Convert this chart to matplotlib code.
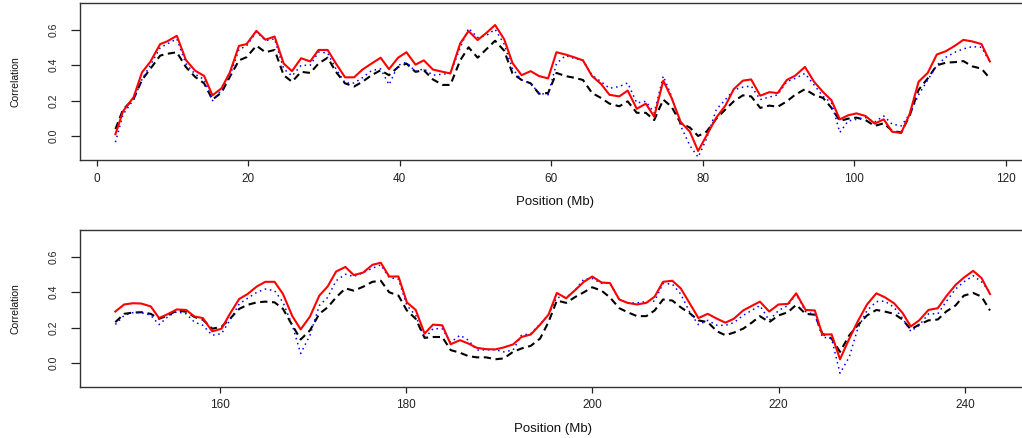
import matplotlib
matplotlib.use("Agg")
import matplotlib.pyplot as plt

plt.rcParams['font.family'] = ['Liberation Sans', 'DejaVu Sans']

# ---------------- data: upper panel ----------------
pos_top = [2.5, 3.5, 4.9, 6.0, 7.1, 8.4, 9.3, 10.6, 11.8, 13.0, 14.2, 15.3, 16.5, 17.6, 18.8,
           19.8, 21.1, 22.3, 23.5, 24.7, 25.8, 27.0, 28.2, 29.3, 30.5, 31.6, 32.8, 34.0, 35.1,
           36.3, 37.5, 38.6, 39.8, 40.9, 42.1, 43.2, 44.4, 45.7, 46.7, 48.0, 49.1, 50.3, 51.5,
           52.6, 53.8, 54.9, 56.1, 57.3, 58.4, 59.6, 60.7, 61.9, 63.0, 64.2, 65.4, 66.6, 67.7,
           69.0, 70.1, 71.3, 72.5, 73.6, 74.8, 75.9, 77.1, 78.3, 79.4, 80.5, 81.8, 83.0, 84.1,
           85.3, 86.4, 87.6, 88.8, 89.9, 91.1, 92.2, 93.5, 94.7, 95.9, 97.0, 98.1, 99.2, 100.3,
           101.5, 102.7, 103.9, 105.0, 106.2, 107.3, 108.5, 109.7, 110.9, 112.1, 113.3, 114.4,
           115.6, 116.8, 117.9]

red_top = [0.01, 0.14, 0.22, 0.36, 0.42, 0.52, 0.535, 0.567, 0.43, 0.37, 0.34, 0.23, 0.27, 0.36,
           0.51, 0.52, 0.595, 0.545, 0.563, 0.41, 0.367, 0.44, 0.422, 0.487, 0.487, 0.41, 0.332,
           0.332, 0.376, 0.41, 0.443, 0.378, 0.443, 0.474, 0.404, 0.428, 0.376, 0.363, 0.354,
           0.524, 0.594, 0.543, 0.585, 0.628, 0.548, 0.413, 0.344, 0.367, 0.339, 0.326, 0.474,
           0.461, 0.446, 0.428, 0.339, 0.294, 0.233, 0.224, 0.257, 0.154, 0.183, 0.109, 0.313,
           0.215, 0.079, 0.025, -0.085, 0.002, 0.104, 0.172, 0.265, 0.313, 0.32, 0.228, 0.248,
           0.243, 0.317, 0.341, 0.391, 0.307, 0.248, 0.202, 0.094, 0.117, 0.128, 0.113, 0.07,
           0.094, 0.024, 0.017, 0.122, 0.307, 0.357, 0.461, 0.48, 0.511, 0.544, 0.535, 0.52, 0.422]

black_top = [0.039, 0.15, 0.21, 0.317, 0.38, 0.455, 0.465, 0.474, 0.39, 0.335, 0.298, 0.206, 0.246,
             0.335, 0.428, 0.446, 0.511, 0.474, 0.487, 0.344, 0.307, 0.363, 0.357, 0.41, 0.443,
             0.363, 0.298, 0.28, 0.307, 0.344, 0.372, 0.344, 0.39, 0.41, 0.363, 0.372, 0.32, 0.289,
             0.289, 0.428, 0.502, 0.443, 0.493, 0.539, 0.483, 0.354, 0.317, 0.298, 0.239, 0.243,
             0.357, 0.339, 0.33, 0.317, 0.243, 0.215, 0.183, 0.168, 0.196, 0.131, 0.131, 0.09,
             0.206, 0.165, 0.072, 0.048, 0.0, 0.024, 0.098, 0.15, 0.196, 0.23, 0.224, 0.159, 0.172,
             0.165, 0.196, 0.233, 0.265, 0.233, 0.215, 0.159, 0.085, 0.098, 0.104, 0.09, 0.057,
             0.072, 0.029, 0.02, 0.113, 0.261, 0.326, 0.40, 0.415, 0.418, 0.424, 0.394, 0.381, 0.326]

blue_top = [-0.035, 0.122, 0.206, 0.32, 0.40, 0.50, 0.52, 0.55, 0.41, 0.35, 0.32, 0.20, 0.26, 0.34,
            0.49, 0.51, 0.59, 0.54, 0.55, 0.38, 0.34, 0.40, 0.40, 0.475, 0.47, 0.38, 0.30, 0.30,
            0.33, 0.37, 0.38, 0.29, 0.40, 0.418, 0.365, 0.38, 0.344, 0.35, 0.354, 0.50, 0.61,
            0.557, 0.57, 0.604, 0.52, 0.38, 0.317, 0.298, 0.243, 0.233, 0.41, 0.455, 0.44, 0.428,
            0.344, 0.307, 0.27, 0.28, 0.30, 0.187, 0.196, 0.131, 0.339, 0.224, 0.057, -0.054,
            -0.12, -0.017, 0.15, 0.206, 0.261, 0.276, 0.283, 0.206, 0.22, 0.233, 0.307, 0.326,
            0.354, 0.289, 0.224, 0.187, 0.02, 0.085, 0.094, 0.104, 0.08, 0.113, 0.067, 0.057,
            0.122, 0.233, 0.317, 0.40, 0.446, 0.474, 0.493, 0.506, 0.502, 0.418]

# ---------------- data: lower panel ----------------
pos_bot = [148.8, 149.75, 150.7, 151.6, 152.6, 153.5, 154.5, 155.4, 156.4, 157.3, 158.2, 159.2,
           160.2, 161.1, 162.1, 163.0, 164.0, 164.9, 165.9, 166.8, 167.8, 168.7, 169.7, 170.7,
           171.6, 172.5, 173.5, 174.4, 175.4, 176.4, 177.3, 178.2, 179.2, 180.1, 181.05, 182.0,
           182.9, 183.9, 184.8, 185.8, 186.7, 187.6, 188.6, 189.6, 190.5, 191.5, 192.4, 193.4,
           194.4, 195.3, 196.2, 197.2, 198.1, 199.1, 200.0, 201.0, 201.9, 202.9, 203.8, 204.8,
           205.8, 206.7, 207.6, 208.6, 209.5, 210.5, 211.4, 212.4, 213.4, 214.3, 215.2, 216.2,
           217.2, 218.0, 219.0, 220.0, 221.0, 221.9, 222.9, 223.9, 224.7, 225.7, 226.6, 227.6,
           228.5, 229.5, 230.5, 231.4, 232.4, 233.3, 234.2, 235.1, 236.1, 237.1, 238.0, 239.0,
           239.9, 240.9, 241.8, 242.7]

red_bot = [0.291, 0.331, 0.338, 0.336, 0.32, 0.254, 0.278, 0.303, 0.30, 0.263, 0.254, 0.179, 0.194,
           0.278, 0.362, 0.39, 0.433, 0.459, 0.459, 0.39, 0.265, 0.19, 0.263, 0.381, 0.433, 0.517,
           0.543, 0.497, 0.511, 0.555, 0.567, 0.489, 0.489, 0.343, 0.30, 0.166, 0.217, 0.213,
           0.106, 0.129, 0.11, 0.086, 0.078, 0.077, 0.088, 0.105, 0.147, 0.161, 0.217, 0.273,
           0.396, 0.366, 0.409, 0.459, 0.489, 0.455, 0.452, 0.359, 0.34, 0.331, 0.34, 0.375,
           0.459, 0.465, 0.422, 0.334, 0.254, 0.278, 0.25, 0.228, 0.25, 0.297, 0.325, 0.347,
           0.291, 0.331, 0.334, 0.394, 0.30, 0.297, 0.161, 0.162, 0.021, 0.138, 0.235, 0.331,
           0.394, 0.372, 0.338, 0.284, 0.207, 0.241, 0.30, 0.31, 0.377, 0.441, 0.483, 0.521, 0.48, 0.39]

black_bot = [0.231, 0.278, 0.285, 0.287, 0.278, 0.25, 0.27, 0.297, 0.29, 0.26, 0.245, 0.194, 0.205,
             0.25, 0.306, 0.329, 0.343, 0.347, 0.343, 0.306, 0.213, 0.133, 0.185, 0.278, 0.315,
             0.371, 0.422, 0.409, 0.431, 0.459, 0.465, 0.40, 0.381, 0.297, 0.25, 0.142, 0.147,
             0.147, 0.073, 0.058, 0.039, 0.032, 0.032, 0.021, 0.026, 0.063, 0.082, 0.097, 0.138,
             0.231, 0.353, 0.34, 0.371, 0.40, 0.428, 0.409, 0.371, 0.31, 0.287, 0.265, 0.265,
             0.297, 0.359, 0.353, 0.315, 0.28, 0.241, 0.231, 0.179, 0.157, 0.172, 0.194, 0.231,
             0.265, 0.231, 0.269, 0.287, 0.329, 0.278, 0.273, 0.166, 0.138, 0.063, 0.157, 0.213,
             0.269, 0.30, 0.291, 0.278, 0.246, 0.19, 0.217, 0.241, 0.246, 0.291, 0.325, 0.381,
             0.396, 0.375, 0.297]

blue_bot = [0.218, 0.269, 0.285, 0.285, 0.27, 0.217, 0.265, 0.29, 0.278, 0.231, 0.213, 0.157, 0.166,
            0.241, 0.334, 0.366, 0.40, 0.418, 0.409, 0.343, 0.213, 0.054, 0.157, 0.325, 0.371,
            0.465, 0.502, 0.489, 0.511, 0.536, 0.555, 0.483, 0.474, 0.325, 0.269, 0.138, 0.194,
            0.194, 0.116, 0.157, 0.129, 0.073, 0.075, 0.075, 0.063, 0.073, 0.157, 0.166, 0.22,
            0.273, 0.371, 0.371, 0.409, 0.474, 0.478, 0.45, 0.452, 0.359, 0.34, 0.34, 0.347, 0.35,
            0.45, 0.446, 0.39, 0.284, 0.217, 0.241, 0.213, 0.213, 0.228, 0.269, 0.30, 0.325,
            0.241, 0.297, 0.325, 0.39, 0.291, 0.273, 0.147, 0.138, -0.058, 0.035, 0.194, 0.297,
            0.347, 0.35, 0.315, 0.254, 0.179, 0.213, 0.278, 0.278, 0.347, 0.418, 0.459, 0.493,
            0.459, 0.40]

top_xticks = [0, 20, 40, 60, 80, 100, 120]
bot_xticks = [160, 180, 200, 220, 240]
yticks = [0.0, 0.2, 0.4, 0.6]
ytick_labels = ["0.0", "0.2", "0.4", "0.6"]
xlabel = "Position (Mb)"
ylabel = "Correlation"

# ---------------- figure ----------------
W, H = 1022, 438
fig = plt.figure(figsize=(W / 100, H / 100), dpi=100)


def px_axes(left, top, right, bottom):
    return fig.add_axes([left / W, 1 - bottom / H, (right - left) / W, (bottom - top) / H])


ax1 = px_axes(80.3, 3.3, 1030, 160)
ax2 = px_axes(80.3, 230, 1025, 386.7)

panels = [
    (ax1, pos_top, black_top, blue_top, red_top, top_xticks, (-2.14, 123.2), (-0.136, 0.751)),
    (ax2, pos_bot, black_bot, blue_bot, red_bot, bot_xticks, (145.04, 246.46), (-0.134, 0.752)),
]

for ax, xs, blk, blu, red, xt, xl, yl in panels:
    ax.plot(xs, blk, color='black', lw=1.5, linestyle=(0, (3.5, 2.2)))
    ax.plot(xs, blu, color='#0000FF', lw=1.1, linestyle=(0, (1.0, 2.4)))
    ax.plot(xs, red, color='#FF0000', lw=1.5)
    ax.set_xlim(*xl)
    ax.set_ylim(*yl)
    ax.set_xticks(xt)
    ax.set_xticklabels([str(v) for v in xt])
    ax.set_yticks(yticks)
    ax.set_yticklabels(ytick_labels, rotation=90, va='center')
    ax.tick_params(axis='x', length=4.5, width=0.9, pad=4.5, labelsize=8.5, colors='#222222')
    ax.tick_params(axis='y', length=6.5, width=0.9, pad=9, labelsize=7.5, colors='#222222')
    for s in ['left', 'top', 'bottom']:
        ax.spines[s].set_color('#333333')
        ax.spines[s].set_linewidth(1.0)
    ax.spines['right'].set_visible(False)
    ax.set_xlabel(xlabel, fontsize=9.5, va='center', color='#111111')
    ax.xaxis.set_label_coords(0.5, -42 / 156.7)
    ax.set_ylabel(ylabel, fontsize=7.5, va='center', color='#111111')
    ax.yaxis.set_label_coords(-65 / 949.7, 0.5)

fig.savefig("out.png", dpi=100)
